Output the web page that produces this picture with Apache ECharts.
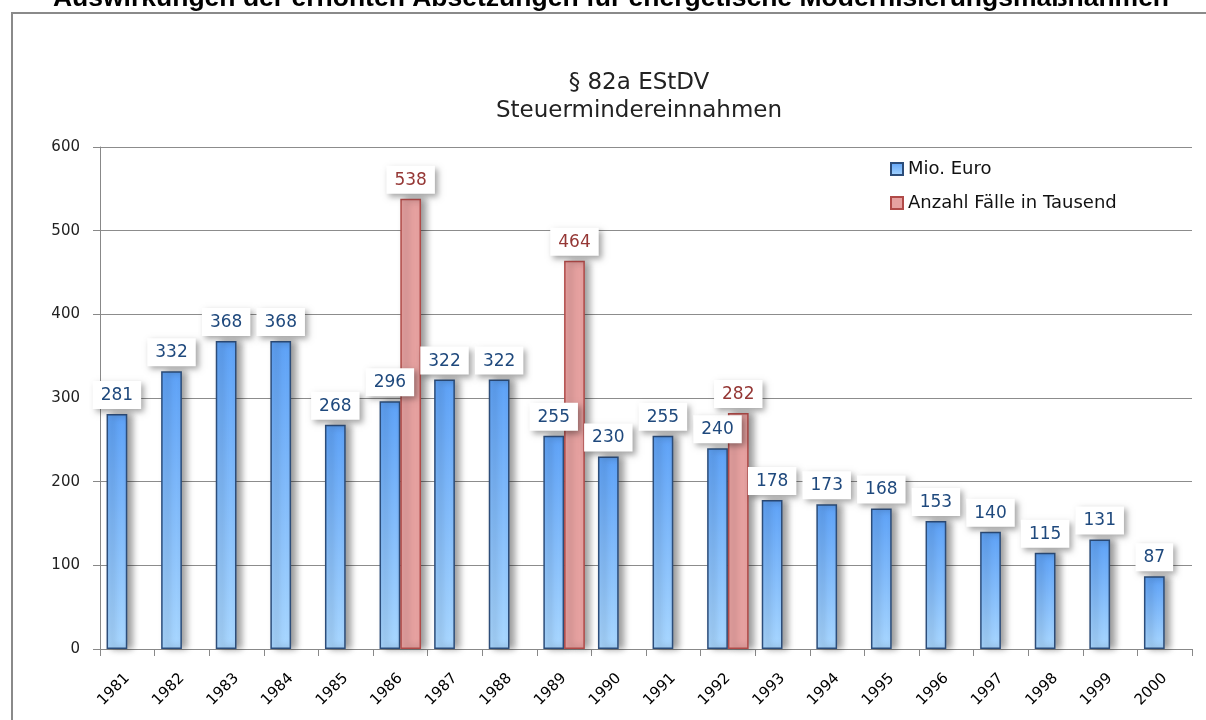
<!DOCTYPE html>
<html><head><meta charset="utf-8">
<script src="https://cdn.jsdelivr.net/npm/echarts@6/dist/echarts.min.js"></script>
<style>html,body{margin:0;padding:0;background:#fff}#c{width:1206px;height:720px}</style>
</head><body><div id="c"></div>
<script>
const years = ['1981','1982','1983','1984','1985','1986','1987','1988','1989','1990','1991','1992','1993','1994','1995','1996','1997','1998','1999','2000'];
const mioEuro = [281,332,368,368,268,296,322,322,255,230,255,240,178,173,168,153,140,115,131,87];
const faelle = [null,null,null,null,null,538,null,null,464,null,null,282,null,null,null,null,null,null,null,null];
const yTicks = [0,100,200,300,400,500,600];
const seriesNames = ['Mio. Euro','Anzahl Fälle in Tausend'];
const chartTitle = '§ 82a EStDV\nSteuermindereinnahmen';
const pageTitle = 'Auswirkungen der erhöhten Absetzungen für energetische Modernisierungsmaßnahmen';

const chart = echarts.init(document.getElementById('c'));
const labelBox = (color) => ({
  show: true, position: 'top', distance: 5,
  fontFamily: 'DejaVu Sans', fontSize: 17, color: color,
  backgroundColor: '#fff', padding: [6, 8, 5, 8],
  shadowColor: 'rgba(0,0,0,0.35)', shadowBlur: 6, shadowOffsetX: 3, shadowOffsetY: 3
});
chart.setOption({
  animation: false,
  graphic: [
    { type: 'rect', shape: { x: 12, y: 13, width: 1300, height: 800 }, style: { fill: 'none', stroke: '#8a8a8a', lineWidth: 2 }, z: -10 },
    { type: 'text', x: 611, y: 12, style: { text: pageTitle, font: 'bold 26.5px "Liberation Sans"', fill: '#000', textAlign: 'center', textVerticalAlign: 'bottom' } }
  ],
  title: { text: chartTitle, left: 634, top: 64, textAlign: 'center',
    textStyle: { fontFamily: 'DejaVu Sans', fontSize: 23, fontWeight: 'normal', color: '#222', lineHeight: 28 } },
  legend: { orient: 'vertical', left: 885, top: 155, itemWidth: 12, itemHeight: 12, itemGap: 16, icon: 'rect',
    textStyle: { fontFamily: 'DejaVu Sans', fontSize: 18, color: '#111' }, data: seriesNames },
  grid: { left: 100, right: 14, top: 147, bottom: 71 },
  xAxis: { type: 'category', data: years,
    axisLine: { lineStyle: { color: '#888', width: 1 } },
    axisTick: { show: true, length: 7, lineStyle: { color: '#888' } },
    axisLabel: { rotate: 45, margin: 27, fontFamily: 'DejaVu Sans', fontSize: 15, color: '#000' } },
  yAxis: { type: 'value', min: yTicks[0], max: yTicks[yTicks.length-1], interval: 100,
    axisLine: { show: true, lineStyle: { color: '#888' } },
    axisTick: { show: true, length: 7, lineStyle: { color: '#888' } },
    splitLine: { lineStyle: { color: '#8c8c8c', width: 1 } },
    axisLabel: { margin: 20, fontFamily: 'DejaVu Sans', fontSize: 15, color: '#222' } },
  series: [
    { name: seriesNames[0], type: 'bar', data: mioEuro, barGap: '0%', barCategoryGap: '24%',
      itemStyle: { color: new echarts.graphic.LinearGradient(0,0,0,1,[{offset:0,color:'#5ea2f7'},{offset:1,color:'#a9d7ff'}]),
        borderColor: '#2c4d7a', borderWidth: 1.5,
        shadowColor: 'rgba(0,0,0,0.4)', shadowBlur: 7, shadowOffsetX: 5 },
      label: labelBox('#1f497d') },
    { name: seriesNames[1], type: 'bar', data: faelle,
      itemStyle: { color: '#e6a1a0', borderColor: '#b04a48', borderWidth: 1.5,
        shadowColor: 'rgba(0,0,0,0.4)', shadowBlur: 7, shadowOffsetX: 5 },
      label: labelBox('#953735') }
  ]
});
</script></body></html>
